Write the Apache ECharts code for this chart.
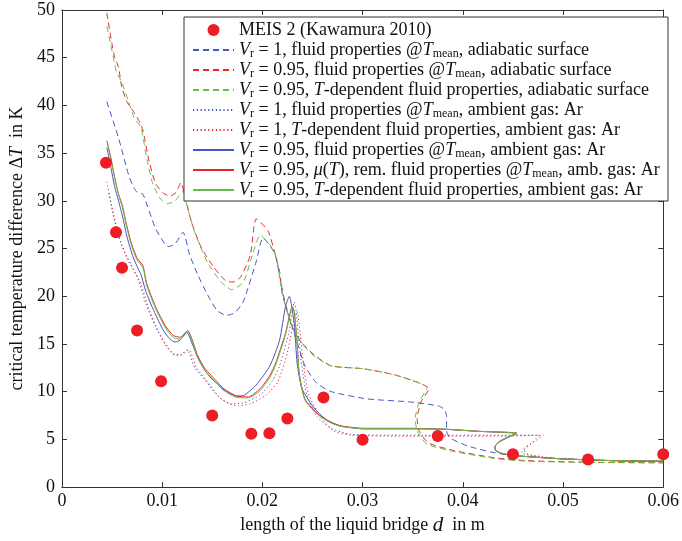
<!DOCTYPE html>
<html>
<head>
<meta charset="utf-8">
<script src="https://cdn.jsdelivr.net/npm/echarts@6/dist/echarts.min.js"></script>
<style>
  html, body { margin: 0; padding: 0; background: #ffffff; }
  #chart { width: 682px; height: 541px; }
</style>
</head>
<body>
<div id="chart"></div>
<script>
// Critical temperature difference vs. liquid bridge length (d in m, dT in K)

// Experimental data: MEIS 2 (Kawamura 2010)
const meisLength = [0.0044, 0.0054, 0.0060, 0.0075, 0.0099, 0.0150, 0.0189, 0.0207, 0.0225, 0.0261, 0.0300, 0.0375, 0.0450, 0.0525, 0.0600];
const meisDeltaT = [34.0, 26.7, 23.0, 16.4, 11.1, 7.5, 5.6, 5.65, 7.2, 9.4, 4.95, 5.35, 3.45, 2.9, 3.45];

// Simulations, [d, dT] along each stability curve (curves may fold back in d)
const vr1MeanAdiabatic = [
  [0.00448, 40.4], [0.00565, 36.6], [0.00672, 32.5], [0.0074, 31.0], [0.00808, 30.7], [0.00935, 27.1],
  [0.01062, 25.2], [0.0113, 25.5], [0.01208, 26.7], [0.01276, 24.3], [0.01354, 22.3], [0.01451, 20.2],
  [0.01549, 18.5], [0.01646, 18.0], [0.0173, 18.3], [0.01812, 19.5], [0.01938, 23.6], [0.02006, 26.1],
  [0.02123, 24.5], [0.02182, 21.6], [0.0223, 19.2], [0.02328, 15.8], [0.02425, 12.7], [0.02542, 10.9],
  [0.02688, 10.0], [0.03049, 9.24], [0.03467, 8.93], [0.0376, 8.5], [0.03818, 8.1], [0.03838, 7.4],
  [0.03838, 5.85], [0.03876, 5.13], [0.04052, 4.3], [0.04315, 3.6], [0.0451, 3.3], [0.04958, 2.98],
  [0.0551, 2.75], [0.06, 2.65]
];
const vr095MeanAdiabatic = [
  [0.00448, 49.7], [0.00497, 46.6], [0.00526, 45.1], [0.00565, 44.0], [0.00594, 42.1], [0.00643, 40.5],
  [0.00711, 39.4], [0.00769, 38.4], [0.00808, 37.4], [0.00867, 34.3], [0.00935, 31.8], [0.01013, 30.8],
  [0.01081, 30.5], [0.0114, 30.9], [0.01188, 31.9], [0.01227, 30.5], [0.01295, 27.7], [0.01393, 25.05],
  [0.01519, 23.0], [0.01636, 21.6], [0.01714, 21.5], [0.01782, 22.0], [0.0188, 24.3], [0.01938, 28.1],
  [0.02055, 26.9], [0.02123, 24.6], [0.02172, 22.6], [0.02201, 20.2], [0.02299, 16.8], [0.02396, 15.1],
  [0.02523, 13.8], [0.02688, 12.7], [0.0301, 12.4], [0.03341, 11.7], [0.03662, 10.3], [0.03584, 8.93],
  [0.03545, 7.2], [0.03565, 5.85], [0.03662, 4.6], [0.03925, 3.8], [0.04315, 3.08], [0.04636, 2.77],
  [0.05289, 2.6], [0.06, 2.55]
];
const vr095TdepAdiabatic = [
  [0.00448, 48.3], [0.00497, 45.9], [0.00545, 43.5], [0.00594, 42.5], [0.00662, 40.5], [0.00721, 38.7],
  [0.00789, 37.7], [0.00838, 34.9], [0.00906, 31.8], [0.00984, 30.2], [0.01052, 29.7], [0.0113, 30.0],
  [0.01208, 31.0], [0.01247, 29.5], [0.01325, 26.7], [0.01451, 23.6], [0.01588, 21.5], [0.01695, 20.7],
  [0.01812, 21.5], [0.01909, 24.6], [0.01977, 26.4], [0.02075, 25.4], [0.02133, 24.3], [0.02201, 20.2],
  [0.02299, 16.7], [0.02396, 15.0], [0.02523, 13.7], [0.02688, 12.7], [0.0301, 12.4], [0.03341, 11.7],
  [0.03643, 10.4], [0.03565, 8.93], [0.03526, 7.2], [0.03545, 5.85], [0.03643, 4.5], [0.03925, 3.7],
  [0.04315, 3.0], [0.04636, 2.72], [0.05289, 2.58], [0.06, 2.55]
];
const vr1MeanAr = [
  [0.00468, 30.8], [0.00526, 27.9], [0.00594, 25.4], [0.00692, 23.3], [0.0076, 21.8], [0.00838, 19.2],
  [0.00935, 16.8], [0.01032, 14.9], [0.0111, 13.9], [0.01179, 13.8], [0.01247, 14.4], [0.01325, 12.5],
  [0.01422, 11.3], [0.01519, 10.0], [0.01588, 9.24], [0.01685, 8.73], [0.01812, 8.83], [0.01977, 9.65],
  [0.02104, 11.2], [0.02172, 12.7], [0.02269, 16.4], [0.02318, 19.4], [0.02338, 18.4], [0.02367, 15.1],
  [0.02396, 12.5], [0.02444, 9.65], [0.02542, 7.4], [0.02688, 6.16], [0.02883, 5.54], [0.0337, 5.44],
  [0.04344, 5.44], [0.04763, 5.44], [0.04685, 4.6], [0.04588, 3.6], [0.04734, 3.2], [0.04958, 2.98],
  [0.0551, 2.77], [0.06, 2.72]
];
const vr1TdepAr = [
  [0.00448, 32.0], [0.00497, 29.5], [0.00565, 26.4], [0.00643, 24.1], [0.0074, 22.3], [0.00789, 21.3],
  [0.00867, 18.7], [0.00964, 16.3], [0.01062, 14.6], [0.0113, 13.9], [0.01198, 13.9], [0.01266, 14.4],
  [0.01344, 12.5], [0.01442, 11.2], [0.01568, 9.45], [0.01666, 8.73], [0.01763, 8.52], [0.0188, 8.73],
  [0.02026, 9.55], [0.02153, 11.0], [0.0225, 14.1], [0.02318, 17.7], [0.02347, 18.4], [0.02377, 16.1],
  [0.02415, 12.5], [0.02464, 9.65], [0.02591, 7.2], [0.02717, 5.85], [0.02883, 5.44], [0.0337, 5.34],
  [0.04344, 5.34], [0.04802, 5.44], [0.04705, 4.7], [0.04607, 4.0], [0.04636, 3.5], [0.04782, 3.2],
  [0.04958, 2.98], [0.0551, 2.77], [0.06, 2.72]
];
const vr095MeanAr = [
  [0.00448, 35.6], [0.00487, 33.6], [0.00526, 31.5], [0.00565, 30.0], [0.00604, 28.4], [0.00653, 26.1],
  [0.00711, 24.1], [0.00769, 22.7], [0.00789, 22.3], [0.00838, 20.5], [0.00916, 18.5], [0.01013, 16.4],
  [0.01081, 15.5], [0.0113, 15.2], [0.01179, 15.4], [0.01247, 16.2], [0.01305, 14.9], [0.01354, 13.6],
  [0.01422, 12.3], [0.0149, 11.4], [0.01617, 10.2], [0.01743, 9.55], [0.01812, 9.6], [0.01938, 10.7],
  [0.02075, 12.7], [0.02172, 15.4], [0.0223, 18.9], [0.02269, 20.0], [0.02318, 17.1], [0.02347, 13.0],
  [0.02396, 10.3], [0.02523, 8.2], [0.02659, 6.9], [0.02786, 6.4], [0.0301, 6.1], [0.03497, 6.1],
  [0.03828, 6.06], [0.04149, 5.85], [0.04539, 5.6], [0.0445, 5.2], [0.0436, 4.7], [0.0432, 4.2],
  [0.0433, 3.8], [0.044, 3.5], [0.0451, 3.3], [0.04958, 2.98], [0.0551, 2.77], [0.06, 2.72]
];
const vr095MuAr = [
  [0.00448, 36.3], [0.00487, 34.6], [0.00526, 32.5], [0.00565, 30.7], [0.00604, 29.5], [0.00643, 27.6],
  [0.00692, 25.6], [0.0075, 24.0], [0.00808, 23.2], [0.00847, 21.3], [0.00935, 18.9], [0.01032, 16.9],
  [0.0111, 15.9], [0.01179, 15.7], [0.01256, 16.4], [0.01305, 15.3], [0.01354, 13.8], [0.01422, 12.5],
  [0.0149, 11.7], [0.01617, 10.3], [0.01743, 9.55], [0.0186, 9.45], [0.01977, 10.3], [0.02075, 11.7],
  [0.02133, 13.0], [0.0223, 16.1], [0.02299, 18.9], [0.02318, 18.4], [0.02347, 15.1], [0.02367, 12.0],
  [0.02425, 9.24], [0.02562, 7.6], [0.02688, 6.8], [0.02786, 6.4], [0.0301, 6.16], [0.03497, 6.16],
  [0.03828, 6.06], [0.04149, 5.85], [0.04539, 5.65], [0.0445, 5.25], [0.0436, 4.75], [0.0432, 4.2],
  [0.0433, 3.8], [0.044, 3.5], [0.0451, 3.3], [0.04958, 2.98], [0.0551, 2.77], [0.06, 2.72]
];
const vr095TdepAr = [
  [0.00458, 35.9], [0.00497, 33.9], [0.00536, 31.9], [0.00575, 30.3], [0.00604, 29.3], [0.00643, 27.4],
  [0.00692, 25.4], [0.0075, 23.8], [0.00808, 23.0], [0.00847, 21.1], [0.00935, 18.7], [0.01032, 16.7],
  [0.0111, 15.7], [0.01179, 15.5], [0.01256, 16.3], [0.01305, 15.1], [0.01354, 13.6], [0.01422, 12.3],
  [0.0149, 11.5], [0.01617, 10.1], [0.01743, 9.4], [0.0186, 9.35], [0.01977, 10.1], [0.02075, 11.5],
  [0.02133, 12.8], [0.0223, 15.9], [0.02299, 18.8], [0.02318, 18.3], [0.02347, 15.0], [0.02367, 11.9],
  [0.02425, 9.1], [0.02562, 7.5], [0.02688, 6.7], [0.02786, 6.35], [0.0301, 6.12], [0.03497, 6.12],
  [0.03828, 6.06], [0.04149, 5.85], [0.04539, 5.65], [0.0445, 5.25], [0.0436, 4.75], [0.0432, 4.2],
  [0.0433, 3.8], [0.044, 3.5], [0.0451, 3.3], [0.04958, 2.98], [0.0551, 2.77], [0.06, 2.72]
];

// Axis ranges
const xMin = 0, xMax = 0.06, xStep = 0.01;
const yMin = 0, yMax = 50, yStep = 5;

// Legend labels (rich text: i = italic, s = subscript)
const legendLabels = {
  meis: '{n|MEIS 2 (Kawamura 2010)}',
  vr1MeanAdiabatic: '{i|V}{s|r}{n| = 1, fluid properties @}{i|T}{s|mean}{n|, adiabatic surface}',
  vr095MeanAdiabatic: '{i|V}{s|r}{n| = 0.95, fluid properties @}{i|T}{s|mean}{n|, adiabatic surface}',
  vr095TdepAdiabatic: '{i|V}{s|r}{n| = 0.95, }{i|T}{n|-dependent fluid properties, adiabatic surface}',
  vr1MeanAr: '{i|V}{s|r}{n| = 1, fluid properties @}{i|T}{s|mean}{n|, ambient gas: Ar}',
  vr1TdepAr: '{i|V}{s|r}{n| = 1, }{i|T}{n|-dependent fluid properties, ambient gas: Ar}',
  vr095MeanAr: '{i|V}{s|r}{n| = 0.95, fluid properties @}{i|T}{s|mean}{n|, ambient gas: Ar}',
  vr095MuAr: '{i|V}{s|r}{n| = 0.95, }{i|μ}{n|(}{i|T}{n|), rem. fluid properties @}{i|T}{s|mean}{n|, amb. gas: Ar}',
  vr095TdepAr: '{i|V}{s|r}{n| = 0.95, }{i|T}{n|-dependent fluid properties, ambient gas: Ar}'
};

const FONT = '"Liberation Serif", "DejaVu Serif", serif';
const FS = 18;
const BLUE = '#4258c4', RED = '#e8262c', GREEN = '#66be48', INK = '#111111';

const richStyles = {
  n: { fontFamily: FONT, fontSize: FS, lineHeight: 20, color: INK },
  i: { fontFamily: FONT, fontSize: FS, lineHeight: 20, color: INK, fontStyle: 'italic' },
  s: { fontFamily: FONT, fontSize: 12, lineHeight: 12, color: INK, verticalAlign: 'bottom' },
  d: { fontFamily: FONT, fontSize: 21, lineHeight: 20, color: INK, fontStyle: 'italic' }
};

function curve(name, data, color, type) {
  return {
    name: name,
    type: 'line',
    data: data,
    symbol: 'none',
    smooth: 0.2,
    animation: false,
    lineStyle: {
      color: color,
      width: 1,
      type: type === 'dashed' ? [6, 4] : (type === 'dotted' ? [1.2, 2.6] : 'solid')
    },
    itemStyle: { color: color },
    z: 2
  };
}

const chart = echarts.init(document.getElementById('chart'), null, { renderer: 'canvas' });

const axisCommon = {
  min: xMin, max: xMax, interval: xStep,
  axisLine: { show: true, onZero: false, lineStyle: { color: '#333', width: 1 } },
  axisTick: { show: true, inside: true, length: 5, lineStyle: { color: '#333' } },
  splitLine: { show: false }
};

chart.setOption({
  backgroundColor: '#ffffff',
  animation: false,
  grid: { left: 54, right: 12, top: 10, bottom: 44, containLabel: false },
  xAxis: [
    Object.assign({}, axisCommon, {
      type: 'value', position: 'bottom',
      axisLabel: { show: true, margin: 5, fontFamily: FONT, fontSize: FS, color: INK },
      name: '{n|length of the liquid bridge }{d|d}{n|  in m}',
      nameLocation: 'middle', nameGap: 21,
      nameTextStyle: { rich: richStyles }
    }),
    Object.assign({}, axisCommon, {
      type: 'value', position: 'top',
      axisLabel: { show: false }
    })
  ],
  yAxis: [
    Object.assign({}, axisCommon, {
      type: 'value', position: 'left', min: yMin, max: yMax, interval: yStep,
      axisLabel: { show: true, margin: 7, fontFamily: FONT, fontSize: FS, color: INK },
      name: '{n|critical temperature difference Δ}{i|T}{n|  in K}',
      nameLocation: 'middle', nameGap: 29, nameRotate: 90,
      nameTextStyle: { rich: richStyles }
    }),
    Object.assign({}, axisCommon, {
      type: 'value', position: 'right', min: yMin, max: yMax, interval: yStep,
      axisLabel: { show: false }
    })
  ],
  graphic: {
    elements: [{
      type: 'rect', z: 3, silent: true,
      shape: { x: 184, y: 17, width: 484, height: 184 },
      style: { fill: '#ffffff', stroke: '#333333', lineWidth: 1 }
    }]
  },
  legend: {
    orient: 'vertical', left: 192, top: 20, z: 5,
    itemWidth: 41, itemHeight: 12, itemGap: 0, padding: 0,
    selectedMode: false,
    itemStyle: { opacity: 0 },
    data: [
      { name: 'meis', icon: 'circle', itemStyle: { opacity: 1, color: '#ee1c25' } },
      'vr1MeanAdiabatic', 'vr095MeanAdiabatic', 'vr095TdepAdiabatic',
      'vr1MeanAr', 'vr1TdepAr', 'vr095MeanAr', 'vr095MuAr', 'vr095TdepAr'
    ],
    formatter: function (name) { return legendLabels[name]; },
    textStyle: { fontFamily: FONT, fontSize: FS, color: INK, lineHeight: 20, rich: richStyles }
  },
  series: [
    curve('vr1MeanAdiabatic', vr1MeanAdiabatic, BLUE, 'dashed'),
    curve('vr095MeanAdiabatic', vr095MeanAdiabatic, RED, 'dashed'),
    curve('vr095TdepAdiabatic', vr095TdepAdiabatic, GREEN, 'dashed'),
    curve('vr1MeanAr', vr1MeanAr, BLUE, 'dotted'),
    curve('vr1TdepAr', vr1TdepAr, RED, 'dotted'),
    curve('vr095MeanAr', vr095MeanAr, BLUE, 'solid'),
    curve('vr095MuAr', vr095MuAr, RED, 'solid'),
    curve('vr095TdepAr', vr095TdepAr, GREEN, 'solid'),
    {
      name: 'meis',
      type: 'scatter',
      data: meisLength.map(function (d, k) { return [d, meisDeltaT[k]]; }),
      symbol: 'circle',
      symbolSize: 12,
      itemStyle: { color: '#ee1c25', opacity: 1 },
      animation: false,
      z: 6
    }
  ]
});
</script>
</body>
</html>
